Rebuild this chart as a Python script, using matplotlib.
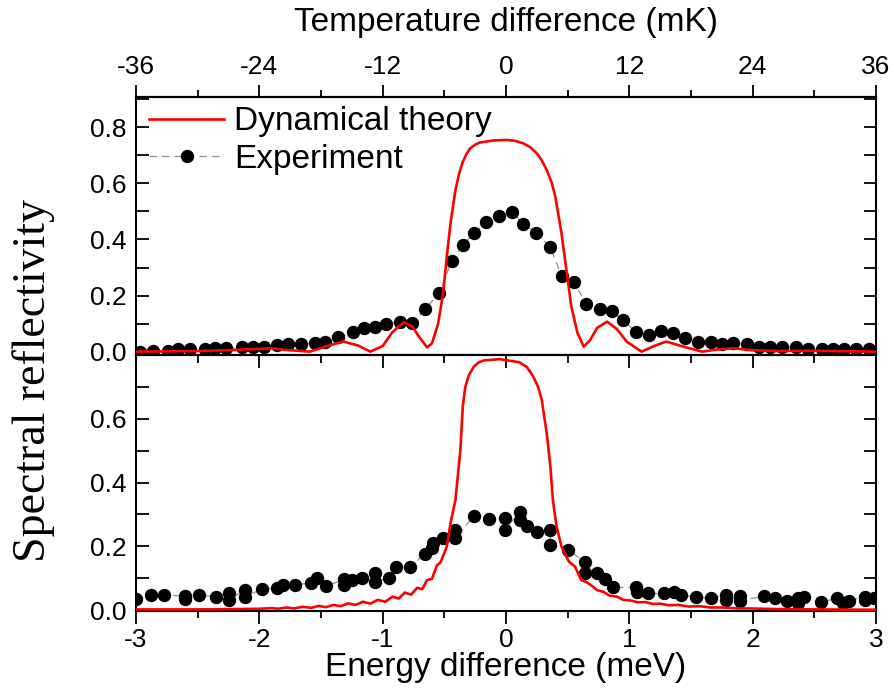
import numpy as np
import matplotlib
matplotlib.use('Agg')
from matplotlib import pyplot as plt
from matplotlib.ticker import MultipleLocator

plt.rcParams['font.family'] = ['Liberation Sans', 'DejaVu Sans']

# ---- data ----
# top panel: dynamical theory (energy meV, reflectivity)
top_theory_e = [-3.0, -2.5, -2.2, -1.91, -1.75, -1.59, -1.45, -1.32, -1.2, -1.10,
                -1.0, -0.92, -0.83, -0.76, -0.70, -0.64, -0.60, -0.55, -0.51, -0.48,
                -0.45, -0.41, -0.38, -0.35, -0.32, -0.29, -0.25, -0.21, -0.1, 0.0,
                0.07, 0.14, 0.20, 0.25, 0.29, 0.33, 0.37, 0.40, 0.45, 0.49,
                0.53, 0.58, 0.63, 0.68, 0.74, 0.82, 0.90, 0.98, 1.10, 1.2,
                1.30, 1.42, 1.59, 1.72, 1.84, 2.0, 2.2, 2.5, 3.0]
top_theory_r = [0.0, 0.002, 0.006, 0.012, 0.005, 0.0, 0.02, 0.036, 0.022, 0.0,
                0.02, 0.07, 0.105, 0.09, 0.05, 0.015, 0.03, 0.10, 0.208, 0.339,
                0.458, 0.576, 0.635, 0.677, 0.705, 0.725, 0.738, 0.746, 0.753, 0.755,
                0.752, 0.743, 0.728, 0.707, 0.682, 0.648, 0.603, 0.553, 0.422, 0.291,
                0.160, 0.066, 0.018, 0.04, 0.085, 0.107, 0.08, 0.035, 0.0, 0.02,
                0.036, 0.02, 0.0, 0.008, 0.012, 0.005, 0.002, 0.003, 0.0]

# top panel: experiment
top_exp_e = [-2.97, -2.86, -2.74, -2.66, -2.56, -2.44, -2.36, -2.27, -2.14, -2.05,
             -1.96, -1.86, -1.77, -1.66, -1.55, -1.47, -1.36, -1.24, -1.15, -1.06,
             -0.97, -0.86, -0.76, -0.66, -0.54, -0.44, -0.35, -0.26, -0.16, -0.06,
             0.05, 0.14, 0.24, 0.36, 0.45, 0.55, 0.65, 0.76, 0.86, 0.95,
             1.05, 1.16, 1.26, 1.35, 1.45, 1.56, 1.66, 1.75, 1.84, 1.95,
             2.05, 2.14, 2.24, 2.35, 2.45, 2.56, 2.65, 2.74, 2.84, 2.94]
top_exp_r = [0.0, 0.004, 0.004, 0.009, 0.009, 0.009, 0.012, 0.012, 0.016, 0.016,
             0.016, 0.024, 0.027, 0.027, 0.032, 0.035, 0.051, 0.069, 0.086, 0.089,
             0.098, 0.106, 0.101, 0.151, 0.208, 0.324, 0.380, 0.422, 0.463, 0.484,
             0.499, 0.455, 0.424, 0.372, 0.271, 0.250, 0.170, 0.151, 0.145, 0.113,
             0.071, 0.060, 0.075, 0.068, 0.050, 0.036, 0.036, 0.027, 0.032, 0.027,
             0.018, 0.016, 0.016, 0.016, 0.009, 0.009, 0.009, 0.009, 0.009, 0.008]

# bottom panel: dynamical theory
bot_theory_e = [-3.0, -2.5, -2.2, -2.0, -1.9, -1.85, -1.78, -1.72, -1.65, -1.58,
                -1.52, -1.46, -1.40, -1.34, -1.28, -1.22, -1.16, -1.10, -1.04, -0.98,
                -0.92, -0.87, -0.82, -0.77, -0.72, -0.68, -0.64, -0.60, -0.56, -0.53,
                -0.48, -0.45, -0.41, -0.37, -0.35, -0.33, -0.30, -0.26, -0.22, -0.18,
                -0.05, 0.11, 0.17, 0.22, 0.26, 0.29, 0.33, 0.36, 0.38, 0.41,
                0.45, 0.51, 0.56, 0.61, 0.65, 0.69, 0.74, 0.79, 0.84, 0.90,
                0.95, 1.01, 1.07, 1.13, 1.19, 1.25, 1.32, 1.40, 1.48, 1.57,
                1.66, 1.76, 1.88, 1.98, 2.2, 2.5, 3.0]
bot_theory_r = [0.002, 0.002, 0.003, 0.004, 0.006, 0.004, 0.008, 0.005, 0.010, 0.007,
                0.013, 0.009, 0.016, 0.012, 0.021, 0.016, 0.026, 0.020, 0.032, 0.026,
                0.042, 0.036, 0.055, 0.048, 0.070, 0.065, 0.094, 0.098, 0.140, 0.150,
                0.199, 0.272, 0.345, 0.502, 0.640, 0.700, 0.738, 0.764, 0.777, 0.783,
                0.787, 0.777, 0.762, 0.733, 0.700, 0.659, 0.555, 0.450, 0.345, 0.262,
                0.199, 0.152, 0.136, 0.094, 0.088, 0.078, 0.062, 0.057, 0.045, 0.042,
                0.032, 0.030, 0.024, 0.025, 0.019, 0.020, 0.015, 0.016, 0.011, 0.012,
                0.008, 0.008, 0.005, 0.005, 0.003, 0.002, 0.001]

# bottom panel: experiment (some energies measured twice)
bot_exp_e = [-3.0, -2.88, -2.77, -2.60, -2.60, -2.49, -2.35, -2.25, -2.25, -2.12,
             -2.12, -1.98, -1.86, -1.81, -1.71, -1.58, -1.53, -1.46, -1.31, -1.31,
             -1.25, -1.17, -1.06, -1.06, -0.95, -0.89, -0.78, -0.66, -0.60, -0.59,
             -0.51, -0.41, -0.41, -0.26, -0.14, -0.01, -0.01, 0.11, 0.11, 0.17,
             0.25, 0.36, 0.36, 0.50, 0.64, 0.64, 0.74, 0.80, 0.87, 1.05,
             1.06, 1.15, 1.28, 1.36, 1.42, 1.54, 1.66, 1.78, 1.78, 1.90,
             1.90, 2.09, 2.18, 2.28, 2.37, 2.37, 2.42, 2.55, 2.68, 2.73,
             2.78, 2.91, 2.91, 2.98]
bot_exp_r = [0.034, 0.047, 0.047, 0.044, 0.034, 0.047, 0.042, 0.052, 0.031, 0.063,
             0.042, 0.065, 0.070, 0.078, 0.078, 0.086, 0.102, 0.075, 0.096, 0.078,
             0.094, 0.099, 0.117, 0.089, 0.101, 0.134, 0.134, 0.176, 0.194, 0.209,
             0.227, 0.251, 0.225, 0.296, 0.285, 0.288, 0.251, 0.309, 0.283, 0.265,
             0.244, 0.251, 0.204, 0.188, 0.152, 0.115, 0.117, 0.096, 0.071, 0.071,
             0.057, 0.052, 0.052, 0.057, 0.047, 0.042, 0.037, 0.047, 0.031, 0.044,
             0.029, 0.044, 0.037, 0.029, 0.037, 0.021, 0.042, 0.024, 0.037, 0.021,
             0.029, 0.042, 0.031, 0.037]

x_ticks = [-3, -2, -1, 0, 1, 2, 3]
temp_ticks = [-36, -24, -12, 0, 12, 24, 36]
mk_per_mev = 12.0

red = '#ff0000'
W, H = 895, 690
fig = plt.figure(figsize=(W / 100, H / 100), dpi=100)

left = 136 / W
width = (876 - 136) / W
ax1 = fig.add_axes([left, 1 - 355 / H, width, (355 - 97) / H])
ax2 = fig.add_axes([left, 1 - 611 / H, width, (611 - 355) / H])


def draw(ax, te, tr, ee, er, legend_labels=False):
    ax.plot(ee, er, color='#909090', lw=0.9, ls=(0, (6, 4)), marker='o',
            ms=8.6, mfc='black', mec='black', zorder=2,
            label='Experiment' if legend_labels else None)
    ax.plot(te, tr, color=red, lw=1.9, zorder=3,
            label='Dynamical theory' if legend_labels else None)
    ax.set_xlim(-3, 3)
    for s in ax.spines.values():
        s.set_linewidth(1.5)
    ax.yaxis.set_major_locator(MultipleLocator(0.2))
    ax.yaxis.set_minor_locator(MultipleLocator(0.1))
    ax.xaxis.set_major_locator(MultipleLocator(1))
    ax.xaxis.set_minor_locator(MultipleLocator(0.5))
    ax.tick_params(axis='y', which='both', direction='in', left=True, right=True,
                   length=9, width=1.3, labelsize=19, pad=7)


draw(ax1, top_theory_e, top_theory_r, top_exp_e, top_exp_r, legend_labels=True)
draw(ax2, bot_theory_e, bot_theory_r, bot_exp_e, bot_exp_r)

ax1.set_ylim(-0.012, 0.908)
ax1.set_yticks([0.0, 0.2, 0.4, 0.6, 0.8])
ax1.set_yticklabels(['0.0', '0.2', '0.4', '0.6', '0.8'])
ax1.tick_params(axis='x', which='both', bottom=False, top=False,
                labelbottom=False, labeltop=False)

ax2.set_ylim(-0.003, 0.8)
ax2.set_yticks([0.0, 0.2, 0.4, 0.6, 0.8])
ax2.set_yticklabels(['0.0', '0.2', '0.4', '0.6', ''])
ax2.set_xticks(x_ticks)
ax2.set_xticklabels([str(v) for v in x_ticks])
ax2.tick_params(axis='x', which='major', direction='out', length=9, width=1.3,
                labelsize=19, pad=3)
ax2.tick_params(axis='x', which='minor', direction='out', length=5, width=1.3)
ax2.set_xlabel('Energy difference (meV)', fontsize=24, labelpad=0)

# inward ticks on the shared border (top of bottom panel)
ax2b = ax2.secondary_xaxis('top')
ax2b.set_xticks(x_ticks)
ax2b.xaxis.set_minor_locator(MultipleLocator(0.5))
ax2b.tick_params(which='major', direction='in', length=9, width=1.3, labeltop=False)
ax2b.tick_params(which='minor', direction='in', length=6, width=1.3)
ax2b.spines['top'].set_linewidth(1.5)

# temperature axis on top
ax1t = ax1.secondary_xaxis('top', functions=(lambda e: e * mk_per_mev,
                                             lambda t: t / mk_per_mev))
ax1t.set_xticks(temp_ticks)
ax1t.set_xticklabels([str(v) for v in temp_ticks])
ax1t.xaxis.set_minor_locator(MultipleLocator(6))
ax1t.tick_params(which='major', direction='out', length=9, width=1.3,
                 labelsize=19, pad=4)
ax1t.tick_params(which='minor', direction='out', length=5, width=1.3)
ax1t.spines['top'].set_linewidth(1.5)
ax1t.set_xlabel('Temperature difference (mK)', fontsize=24, labelpad=17)

h, l = ax1.get_legend_handles_labels()
ax1.legend(h[::-1], l[::-1], loc='upper left', bbox_to_anchor=(0.0, 1.015),
           frameon=False, fontsize=24, handlelength=2.25, handletextpad=0.3,
           labelspacing=0.2, borderaxespad=0.2, borderpad=0.2)

fig.text(34 / W, 1 - 381 / H, 'Spectral reflectivity', rotation=90,
         ha='center', va='center', fontsize=33, family='Liberation Serif')

fig.savefig('out.png', dpi=100)
